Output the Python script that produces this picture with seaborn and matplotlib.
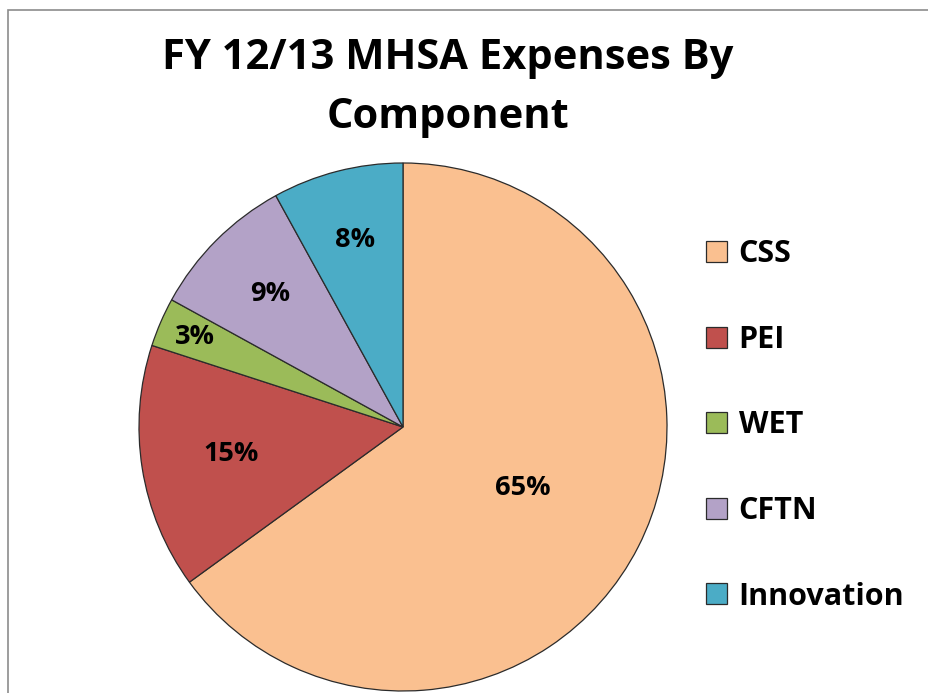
import matplotlib
matplotlib.use("Agg")
import matplotlib.pyplot as plt
import seaborn as sns
from matplotlib.patches import Rectangle, Patch
import numpy as np

# data
components = ["CSS", "PEI", "WET", "CFTN", "Innovation"]
shares = [65, 15, 3, 9, 8]
colors = ["#FAC090", "#C0504D", "#9BBB59", "#B3A2C7", "#4BACC6"]
label_radius = [0.51, 0.66, 0.86, 0.71, 0.73]

sns.set_style("white")
plt.rcParams['font.family'] = ['Open Sans', 'DejaVu Sans']
plt.rcParams['text.color'] = 'black'

W, H = 929, 693
fig = plt.figure(figsize=(W / 100, H / 100), dpi=100)

# chart-area border (runs off the right and bottom)
fig.patches.append(Rectangle((8 / W, -0.1), 1.2, 1 - 10 / H + 0.1,
                             transform=fig.transFigure, fill=False,
                             edgecolor="#8c8c8c", linewidth=1.2))

cx, cy, r = 403, 427, 264
ax = fig.add_axes([(cx - r) / W, (H - cy - r) / H, 2 * r / W, 2 * r / H])

wedges, texts = ax.pie(shares, colors=colors, startangle=90, counterclock=False,
                       radius=1, wedgeprops=dict(edgecolor="#2b2b2b", linewidth=0.9))
ax.set_xlim(-1, 1)
ax.set_ylim(-1, 1)
ax.axis("off")

for w, v, d in zip(wedges, shares, label_radius):
    ang = np.deg2rad((w.theta1 + w.theta2) / 2)
    ax.text(d * np.cos(ang), d * np.sin(ang), f"{v}%", ha="center", va="center",
            fontsize=19.5, fontweight="bold", color="black")

fig.text(448 / W, 1 - 88 / H, "FY 12/13 MHSA Expenses By\nComponent", ha="center",
         va="center", fontsize=30, fontweight="bold", linespacing=1.58, color="black")

handles = [Patch(facecolor=c, edgecolor="#2b2b2b", linewidth=0.9) for c in colors]
leg = fig.legend(handles, components, loc="upper left", bbox_to_anchor=(694 / W, 1 - 227 / H),
                 frameon=False, prop=dict(size=22, weight="bold"), handlelength=0.68,
                 handleheight=0.68, handletextpad=0.38, labelspacing=1.82, borderaxespad=0)
for t in leg.get_texts():
    t.set_color("black")

fig.savefig("out.png", dpi=100)
